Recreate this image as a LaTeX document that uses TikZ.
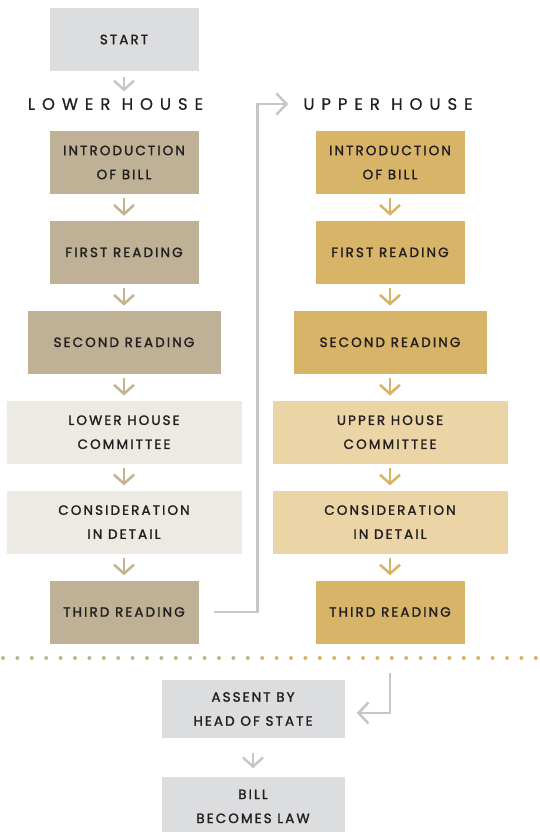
\documentclass[tikz,border=0pt]{standalone}
\usepackage{fontspec}
\setmainfont{Poppins}[LetterSpace=15.5, FakeBold=1.6]
\newfontfamily\headfont{Poppins}[LetterSpace=42, FakeBold=0.6]
\usepackage{tikz}
\usetikzlibrary{arrows.meta, positioning}
\usepackage{xcolor}
\definecolor{ink}{HTML}{231F20}
\definecolor{boxgray}{HTML}{DCDDDF}
\definecolor{tanbox}{HTML}{BFB195}
\definecolor{tanpale}{HTML}{EDEAE3}
\definecolor{goldbox}{HTML}{D7B468}
\definecolor{goldpale}{HTML}{EBD5A7}
\definecolor{tanline}{HTML}{C2B48F}
\definecolor{goldline}{HTML}{D8B462}
\definecolor{linkgray}{HTML}{C5C6C8}

\begin{document}
\begin{tikzpicture}[x=1pt,y=1pt,node distance=26.5pt]
  \tikzstyle{every node}=[font=\fontsize{13.5}{24}\selectfont, text=ink]
  \tikzstyle{box}=[minimum height=63pt, minimum width=149pt, inner sep=0pt, align=center]
  \tikzstyle{wide}=[minimum width=193pt]
  \tikzstyle{wider}=[minimum width=235pt]
  \tikzstyle{heading}=[font=\headfont\fontsize{16.5}{18}\selectfont, inner sep=0pt]
  \tikzstyle{flow}=[line width=2.5pt, -{Straight Barb[length=9pt,width=20pt]},
                    shorten <=4pt, shorten >=5pt]
  \tikzstyle{link}=[line width=2.5pt, color=linkgray, -{Straight Barb[length=10pt,width=21pt]}]

  \useasboundingbox (0,0) rectangle (539,-832);

  \node[box, fill=boxgray] (start) at (124,-39.5) {START};
  \node[heading] (lh) at (115.5,-104) {LOWER HOUSE};
  \node[heading] (uh) at (388,-104) {UPPER HOUSE};

  % lower house
  \node[box, fill=tanbox]         (lo_1) at (124,-162.5) {INTRODUCTION\\OF BILL};
  \node[box, fill=tanbox]         (lo_2) [below=of lo_1] {FIRST READING};
  \node[box, wide, fill=tanbox]   (lo_3) [below=of lo_2] {SECOND READING};
  \node[box, wider, fill=tanpale] (lo_4) [below=of lo_3] {LOWER HOUSE\\COMMITTEE};
  \node[box, wider, fill=tanpale] (lo_5) [below=of lo_4] {CONSIDERATION\\IN DETAIL};
  \node[box, fill=tanbox]         (lo_6) [below=of lo_5] {THIRD READING};

  % upper house
  \node[box, fill=goldbox]         (up_1) at (390,-162.5) {INTRODUCTION\\OF BILL};
  \node[box, fill=goldbox]         (up_2) [below=of up_1] {FIRST READING};
  \node[box, wide, fill=goldbox]   (up_3) [below=of up_2] {SECOND READING};
  \node[box, wider, fill=goldpale] (up_4) [below=of up_3] {UPPER HOUSE\\COMMITTEE};
  \node[box, wider, fill=goldpale] (up_5) [below=of up_4] {CONSIDERATION\\IN DETAIL};
  \node[box, fill=goldbox]         (up_6) [below=of up_5] {THIRD READING};

  \node[box, fill=boxgray, minimum width=183pt, minimum height=58pt] (assent) at (253,-709) {ASSENT BY\\HEAD OF STATE};
  \node[box, fill=boxgray, minimum width=183pt, minimum height=58pt] (law) [below=39pt of assent] {BILL\\BECOMES LAW};

  % dotted divider
  \foreach \i in {0,...,17} \fill[tanline] (3+14.4*\i,-658) circle (2pt);
  \foreach \i in {18,...,37} \fill[goldline] (3+14.4*\i,-658) circle (2pt);

  \path[flow, color=linkgray, shorten <=6pt, shorten >=6.5pt]
  (start) edge (start.south |- lh.north)
  ;
  \path[flow, color=tanline]
  (lo_1) edge (lo_2)
  (lo_2) edge (lo_3)
  (lo_3) edge (lo_4)
  (lo_4) edge (lo_5)
  (lo_5) edge (lo_6)
  ;
  \path[flow, color=goldline]
  (up_1) edge (up_2)
  (up_2) edge (up_3)
  (up_3) edge (up_4)
  (up_4) edge (up_5)
  (up_5) edge (up_6)
  ;
  \path[flow, color=linkgray, shorten <=15pt, shorten >=9pt]
  (assent) edge (law)
  ;

  \draw[link] ([xshift=15pt]lo_6.east) -- ++(44pt,0) |- ([xshift=-15pt]uh.west);
  \draw[link] ([yshift=-29pt]up_6.south) |- ([xshift=12pt,yshift=-4pt]assent.east);
\end{tikzpicture}
\end{document}
